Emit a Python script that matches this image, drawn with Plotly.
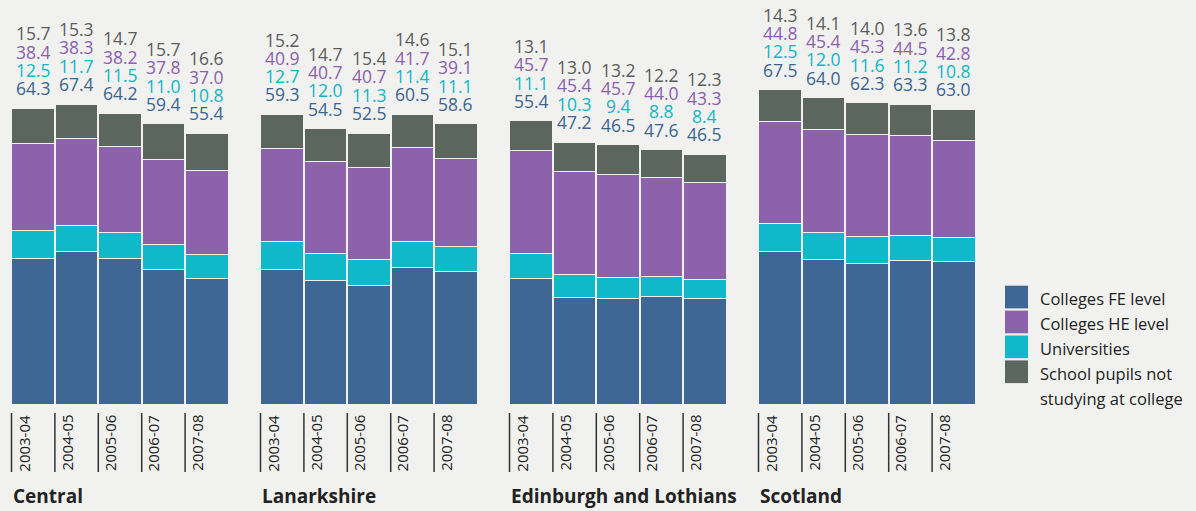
import plotly.graph_objects as go

years = ["2003-04", "2004-05", "2005-06", "2006-07", "2007-08"]
regions = ["Central", "Lanarkshire", "Edinburgh and Lothians", "Scotland"]

fe_level = {
    "Central": [64.3, 67.4, 64.2, 59.4, 55.4],
    "Lanarkshire": [59.3, 54.5, 52.5, 60.5, 58.6],
    "Edinburgh and Lothians": [55.4, 47.2, 46.5, 47.6, 46.5],
    "Scotland": [67.5, 64.0, 62.3, 63.3, 63.0],
}
universities = {
    "Central": [12.5, 11.7, 11.5, 11.0, 10.8],
    "Lanarkshire": [12.7, 12.0, 11.3, 11.4, 11.1],
    "Edinburgh and Lothians": [11.1, 10.3, 9.4, 8.8, 8.4],
    "Scotland": [12.5, 12.0, 11.6, 11.2, 10.8],
}
he_level = {
    "Central": [38.4, 38.3, 38.2, 37.8, 37.0],
    "Lanarkshire": [40.9, 40.7, 40.7, 41.7, 39.1],
    "Edinburgh and Lothians": [45.7, 45.4, 45.7, 44.0, 43.3],
    "Scotland": [44.8, 45.4, 45.3, 44.5, 42.8],
}
school = {
    "Central": [15.7, 15.3, 14.7, 15.7, 16.6],
    "Lanarkshire": [15.2, 14.7, 15.4, 14.6, 15.1],
    "Edinburgh and Lothians": [13.1, 13.0, 13.2, 12.2, 12.3],
    "Scotland": [14.3, 14.1, 14.0, 13.6, 13.8],
}

series_names = ["Colleges FE level", "Universities", "Colleges HE level",
                "School pupils not studying at college"]
series_data = [fe_level, universities, he_level, school]
bar_colors = ["#3e6893", "#10b9c9", "#8c62aa", "#5a665e"]
text_colors = ["#3c6591", "#12b6c8", "#8b5fae", "#5c5c5c"]

BG = "#f1f2f0"
W, H = 1196, 511
FONT = "Open Sans"

fig = go.Figure()
ann = []
shapes = []

bottom_px = 404
ymax = bottom_px / 2.26
y0_paper = 1 - bottom_px / H
n_years = len(years)

for k, reg in enumerate(regions):
    ax = "" if k == 0 else str(k + 1)
    for s, (name, data) in enumerate(zip(series_names, series_data)):
        fig.add_trace(go.Bar(
            x=years, y=data[reg], name=name,
            marker=dict(color=bar_colors[s], line=dict(color=BG, width=1)),
            xaxis="x" + ax, yaxis="y" + ax, showlegend=False,
            hoverinfo="skip",
        ))
    x0 = (11.5 + 249 * k) / W
    x1 = x0 + 217 / W
    fig.layout["xaxis" + ax] = dict(domain=[x0, x1], type="category",
                                    range=[-0.5, n_years - 0.5],
                                    showgrid=False, zeroline=False,
                                    showticklabels=False, ticks="", fixedrange=True,
                                    anchor="y" + ax)
    fig.layout["yaxis" + ax] = dict(domain=[y0_paper, 1], range=[0, ymax], showgrid=False,
                                    zeroline=False, showticklabels=False, ticks="",
                                    anchor="x" + ax)
    label_order = [fe_level, universities, he_level, school]
    for i, yr in enumerate(years):
        total = sum(d[reg][i] for d in series_data)
        for j, (d, c) in enumerate(zip(label_order, text_colors)):
            ann.append(dict(
                x=yr, y=total, xref="x" + ax, yref="y" + ax,
                text=f"{d[reg][i]:.1f}", showarrow=False,
                yanchor="middle", xanchor="center", yshift=20 + 18.3 * j,
                height=18, borderpad=0,
                font=dict(family=FONT, size=17.5, color=c),
            ))
        # rotated tick label
        ann.append(dict(
            x=yr, y=1 - 413 / H, xref="x" + ax, yref="paper",
            text=yr, showarrow=False, textangle=-90,
            xanchor="center", yanchor="top", xshift=-10,
            font=dict(family=FONT, size=15, color="#222222"),
        ))
        # tick line at the left edge of the category slot
        shapes.append(dict(
            type="line", xref="x" + ax + " domain", yref="paper",
            x0=i / n_years, x1=i / n_years, y0=1 - 472 / H, y1=1 - 413 / H,
            line=dict(color="#333333", width=1.5),
        ))
    # panel title
    ann.append(dict(
        x=x0 - 1 / W, y=1 - 496 / H, xref="paper", yref="paper",
        text=f"<b>{reg}</b>", showarrow=False, xanchor="left", yanchor="middle",
        font=dict(family=FONT, size=19, color="#222222"),
    ))

# custom legend
legend_items = [("Colleges FE level", bar_colors[0]),
                ("Colleges HE level", bar_colors[2]),
                ("Universities", bar_colors[1]),
                ("School pupils not", bar_colors[3])]
for n, (label, col) in enumerate(legend_items):
    top = 285.7 + 24.9 * n
    shapes.append(dict(type="rect", xref="paper", yref="paper",
                       x0=1005 / W, x1=1028 / W, y0=1 - (top + 22.7) / H, y1=1 - top / H,
                       fillcolor=col, line=dict(width=0)))
    ann.append(dict(x=1039 / W, y=1 - (top + 12.5) / H, xref="paper", yref="paper",
                    text=label, showarrow=False, xanchor="left", yanchor="middle",
                    height=24, borderpad=0,
                    font=dict(family=FONT, size=16.5, color="#222222")))
ann.append(dict(x=1039 / W, y=1 - 398.3 / H, xref="paper", yref="paper",
                text="studying at college", showarrow=False, xanchor="left", yanchor="middle",
                height=24, borderpad=0,
                font=dict(family=FONT, size=16.5, color="#222222")))

fig.update_layout(
    width=W, height=H, barmode="stack", bargap=0.02,
    paper_bgcolor=BG, plot_bgcolor=BG,
    margin=dict(l=0, r=0, t=0, b=0),
    annotations=ann, shapes=shapes, showlegend=False,
)

fig.write_html("out.html")
